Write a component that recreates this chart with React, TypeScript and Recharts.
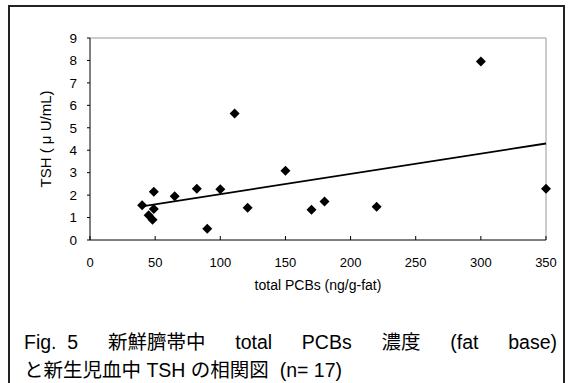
import React from "react";
import {
  ScatterChart,
  Scatter,
  XAxis,
  YAxis,
  ReferenceLine,
} from "recharts";

// total PCBs (ng/g-fat) vs TSH (μU/mL), n = 17
const pcbValues = [40, 45, 48, 49, 49, 65, 82, 90, 100, 111, 121, 150, 170, 180, 220, 300, 350];
const tshValues = [1.55, 1.1, 0.9, 1.38, 2.15, 1.95, 2.28, 0.5, 2.26, 5.64, 1.44, 3.09, 1.35, 1.71, 1.48, 7.95, 2.28];

const xTicks = [0, 50, 100, 150, 200, 250, 300, 350];
const yTicks = [0, 1, 2, 3, 4, 5, 6, 7, 8, 9];

// linear trend line end points
const trendX = [40, 350];
const trendY = [1.5, 4.3];

// caption, line 1 is justified word by word
const captionWords = ["Fig.  5", "新鮮臍帯中", "total", "PCBs", "濃度", "(fat", "base)"];
const captionLine2 = "と新生児血中 TSH の相関図  (n= 17)";

const FONT = "'Liberation Sans', Arial, sans-serif";
const CJK = "'Liberation Sans', Arial, 'Noto Sans CJK JP', sans-serif";

const points = pcbValues.map((x, i) => ({ x, y: tshValues[i] }));

function Diamond(props: any) {
  const { cx, cy } = props;
  const r = 5;
  return (
    <polygon
      points={`${cx},${cy - r} ${cx + r},${cy} ${cx},${cy + r} ${cx - r},${cy}`}
      fill="#000"
    />
  );
}

function XTick(props: any) {
  const { x, y, payload } = props;
  const axisY = y - 14;
  return (
    <g>
      <line x1={x} x2={x} y1={axisY - 4} y2={axisY} stroke="#000" />
      <text x={x} y={axisY + 27} textAnchor="middle" fontSize={13} fontFamily={FONT} fill="#000">
        {payload.value}
      </text>
    </g>
  );
}

export default function App() {
  return (
    <div style={{ position: "absolute", left: 0, top: 0, width: 571, height: 383, overflow: "hidden", background: "#fff" }}>
      <div
        style={{
          position: "absolute",
          left: 8,
          top: 5,
          width: 557,
          height: 420,
          border: "2px solid #222",
          boxSizing: "border-box",
        }}
      />
      <div style={{ position: "absolute", left: 0, top: 0 }}>
        <ScatterChart width={571} height={300} margin={{ top: 38, right: 25, bottom: 30, left: 50 }}>
          <XAxis
            type="number"
            dataKey="x"
            domain={[0, 350]}
            ticks={xTicks}
            interval={0}
            axisLine={{ stroke: "#000" }}
            tickLine={false}
            tickSize={0}
            tickMargin={14}
            height={30}
            tick={<XTick />}
            label={{
              value: "total PCBs (ng/g-fat)",
              position: "insideBottom",
              offset: -20,
              fontSize: 14,
              fontFamily: FONT,
              fill: "#000",
            }}
          />
          <YAxis
            type="number"
            dataKey="y"
            domain={[0, 9]}
            ticks={yTicks}
            interval={0}
            width={40}
            axisLine={{ stroke: "#000" }}
            tickLine={{ stroke: "#000" }}
            tickSize={3}
            tickMargin={10}
            tick={{ fontSize: 13.5, fontFamily: FONT, fill: "#000" }}
            label={{
              value: "TSH ( μ U/mL)",
              angle: -90,
              position: "center",
              dx: -24,
              fontSize: 15,
              fontFamily: FONT,
              fill: "#000",
            }}
          />
          <ReferenceLine y={9} stroke="#999" />
          <ReferenceLine x={350} stroke="#999" />
          <ReferenceLine
            segment={[
              { x: trendX[0], y: trendY[0] },
              { x: trendX[1], y: trendY[1] },
            ]}
            stroke="#000"
            strokeWidth={1.8}
          />
          <Scatter data={points} shape={<Diamond />} isAnimationActive={false} />
        </ScatterChart>
      </div>
      <div
        style={{
          position: "absolute",
          left: 24,
          top: 328,
          width: 533,
          fontFamily: CJK,
          fontSize: 19.5,
          lineHeight: "28px",
          color: "#000",
          whiteSpace: "pre",
        }}
      >
        <div style={{ display: "flex", justifyContent: "space-between" }}>
          {captionWords.map((w, i) => (
            <span key={i}>{w}</span>
          ))}
        </div>
        <div>{captionLine2}</div>
      </div>
    </div>
  );
}
